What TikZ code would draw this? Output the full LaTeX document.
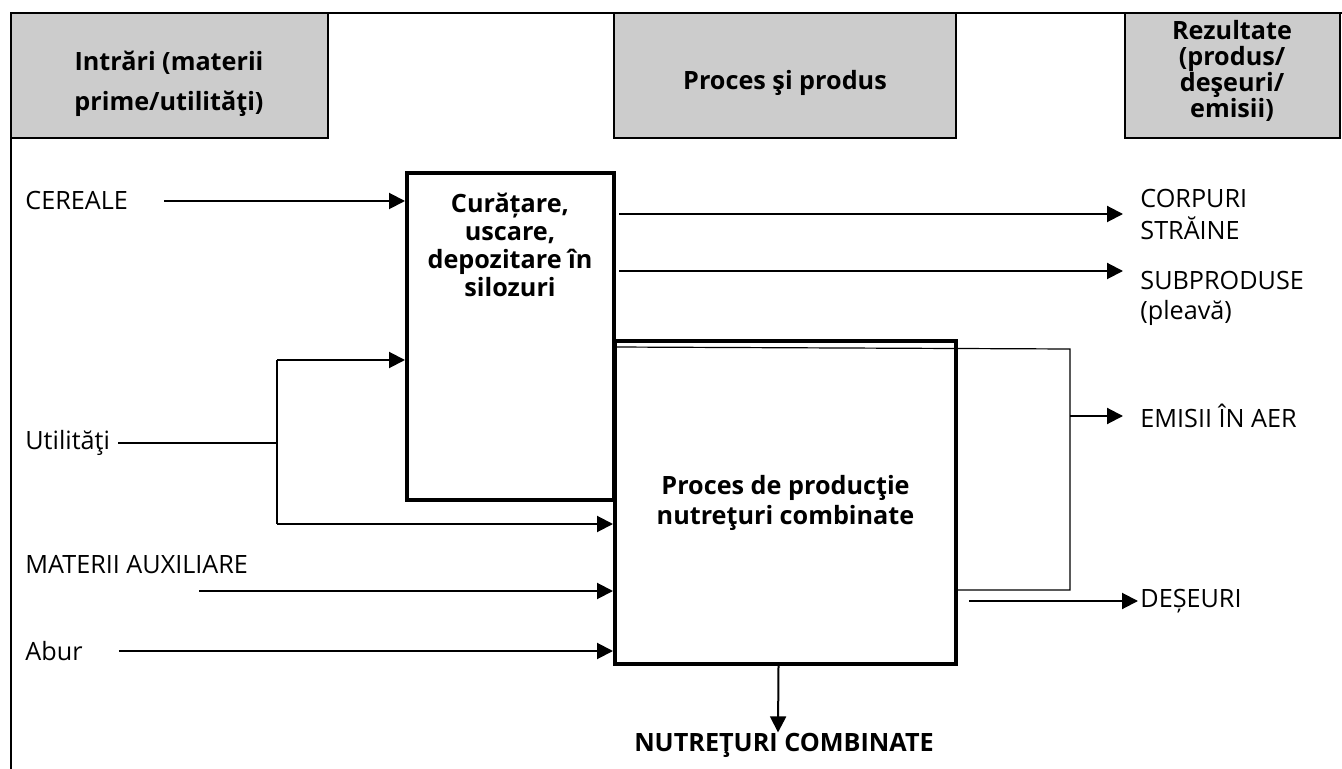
\documentclass[tikz,border=0pt]{standalone}
\usepackage{fontspec}
\setmainfont{Open Sans}
\usetikzlibrary{arrows.meta}

\begin{document}
\begin{tikzpicture}[x=0.5pt, y=-0.5pt,
    font=\fontsize{12.6}{15}\selectfont,
    arr/.style={line width=1pt, -{Triangle[length=8pt, width=8pt]}},
    thinline/.style={line width=0.6pt},
    header/.style={draw, line width=1.2pt, fill=black!20, inner sep=0pt, minimum height=62.5pt},
    procbox/.style={draw, line width=2pt, inner sep=0pt},
    lbl/.style={anchor=west, inner sep=0pt, align=left}]

    \useasboundingbox (0,0) rectangle (1342,769);

    % Draw the frame
    \draw[thinline] (11,769) -- (11,13) -- (1342,13);

    % Draw the header boxes
    \node[header, minimum width=158.5pt] (hIn) at (169.5,75.5) {};
    \node[header, minimum width=171pt] (hProc) at (785,75.5) {};
    \node[header, minimum width=107.5pt] (hRez) at (1232.5,75.5) {};

    \node[font=\fontsize{12.6}{20}\selectfont\bfseries, align=center] (tIn) at (169,84) {Intrări (materii\\prime/utilităţi)};
    \node[font=\fontsize{12.6}{15}\selectfont\bfseries] (tProc) at (785,83) {Proces şi produs};
    \node[font=\fontsize{12.6}{13}\selectfont\bfseries, align=center] (tRez) at (1232,71) {Rezultate\\(produs/\\deşeuri/\\emisii)};

    % Draw the process boxes
    \node[procbox, minimum width=103.5pt, minimum height=163.5pt] (A) at (510.5,336.5) {};
    \node[font=\fontsize{12.6}{14}\selectfont\bfseries, align=center] (tA) at (510,245) {Curățare,\\uscare,\\depozitare în\\silozuri};
    \node[procbox, minimum width=170.5pt, minimum height=161.5pt, align=center, font=\fontsize{12.6}{15}\selectfont\bfseries] (B) at (785.5,502.5) {Proces de producţie\\nutreţuri combinate};

    % Inputs
    \node[lbl] (cer) at (25,201) {CEREALE};
    \node[lbl] (util) at (25,443) {Utilităţi};
    \node[lbl] (mat) at (25,565) {MATERII AUXILIARE};
    \node[lbl] (abur) at (25,651) {Abur};

    % Outputs
    \node[lbl, font=\fontsize{12.6}{16}\selectfont] (corp) at (1140,214) {CORPURI\\STRĂINE};
    \node[lbl, anchor=north west] (subp) at (1140,271) {SUBPRODUSE\\(pleavă)};
    \node[lbl] (emisii) at (1140,416) {EMISII ÎN AER};
    \node[lbl] (deseuri) at (1140,601) {DEȘEURI};
    \node[inner sep=0pt, font=\fontsize{12.6}{15}\selectfont\bfseries] (nc) at (784,745) {NUTREŢURI COMBINATE};

    \coordinate (uJ) at (277,443);
    \coordinate (uT) at (277,360);
    \coordinate (uB) at (277,524);
    \coordinate (matS) at (199,591);
    \coordinate (emT) at (1070,349);
    \coordinate (emB) at (1070,590);

    % Input arrows
    \draw[arr, shorten <=18pt] (cer.east) -- (cer.east -| A.west);
    \draw[thinline, shorten <=4pt] (util.east) -- (uJ);
    \draw[thinline] (uT) -- (uB);
    \draw[arr] (uT) -- (uT -| A.west);
    \draw[arr] (uB) -- (uB -| B.west);
    \draw[arr] (matS) -- (matS -| B.west);
    \draw[arr, shorten <=18pt] (abur.east) -- (abur.east -| B.west);

    % Output arrows
    \draw[arr, shorten <=1.5pt, shorten >=8.5pt] (corp.west -| A.east) -- (corp.west);
    \draw[arr, shorten <=1.5pt, shorten >=8.5pt] (subp.north west -| A.east) -- (subp.north west);
    \draw[thinline] ([yshift=-4pt]B.north west) -- (emT) -- (emB) -- (emB -| B.east);
    \draw[arr, shorten >=8.5pt] (emisii.west -| emT) -- (emisii.west);
    \draw[arr, shorten <=5.5pt, shorten >=1pt] (deseuri.west -| B.east) -- (deseuri.west);
    \draw[arr] ([xshift=-3.5pt]B.south) -- ([xshift=-3pt]nc.north);

\end{tikzpicture}
\end{document}
